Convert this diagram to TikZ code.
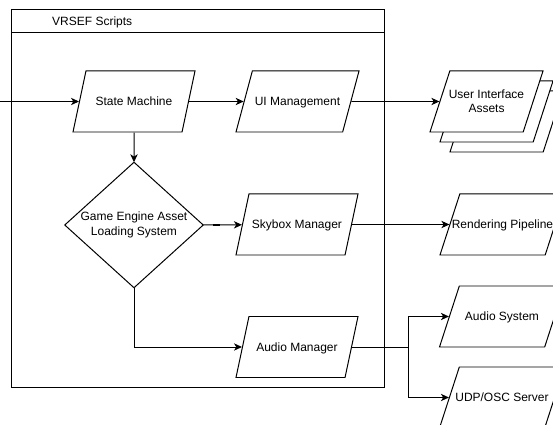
\documentclass[tikz,border=0pt]{standalone}
\usepackage{fontspec}
\setmainfont{Liberation Sans}
\usetikzlibrary{arrows.meta,shapes.geometric}
\tikzset{
  flow/.style = {line width=0.85pt, -{Stealth[length=2.4mm,width=2.2mm,inset=0.7mm]}},
  plain/.style = {line width=0.85pt},
  io/.style = {trapezium, trapezium left angle=#1, trapezium right angle=180-#1,
               trapezium stretches body=true, draw, line width=0.85pt, fill=white,
               inner xsep=-12pt, inner ysep=0pt, text height=1.035cm, text depth=0.795cm,
               align=center, font=\fontsize{10.24}{12.3}\selectfont},
  io/.default = 78,
  twolines/.style = {text height=1.252cm, text depth=0.578cm},
  decide/.style = {draw=none, minimum width=4.14cm, minimum height=3.75cm, align=center,
                   font=\fontsize{10.24}{12.3}\selectfont},
  dashmark/.style = {fill=black, inner sep=0pt, minimum width=0.21cm, minimum height=1.6pt}
}

\begin{document}
\begin{tikzpicture}[x=0.03cm, y=-0.03cm]
  \useasboundingbox (0,0) rectangle (553,425);

  % container
  \draw[plain] (11,10) rectangle (384,387);
  \draw[plain] (11,33) -- (384,33);
  \node[anchor=west, inner sep=0pt, font=\fontsize{10.24}{12.3}\selectfont] (title) at (52,22) {VRSEF Scripts};

  % scripts
  \node[io, minimum width=3.66cm] (sm) at (134,101.5) {State Machine};
  \node[io=75, minimum width=3.69cm] (ui) at (297.5,101.5) {UI Management};
  \node[decide] (gea) at (134,225) {Game Engine Asset\\Loading System};
  \draw[plain] (gea.west) -- (gea.north) -- (gea.east) -- (gea.south) -- cycle;
  \node[io, minimum width=3.66cm] (sky) at (297,224.5) {Skybox Manager};
  \node[io, minimum width=3.66cm] (am) at (297,347) {Audio Manager};

  % outside
  \node[io=72, minimum width=3.39cm] (uia3) at (506.5,121.5) {};
  \node[io=72, minimum width=3.39cm] (uia2) at (496.5,111.5) {};
  \node[io=72, twolines, minimum width=3.39cm] (uia) at (486.5,101.5) {User Interface\\Assets};
  \node[io=72, minimum width=3.75cm] (rp) at (502.5,224.5) {Rendering Pipeline};
  \node[io=72, minimum width=3.75cm] (as) at (502,316.5) {Audio System};
  \node[io=72, minimum width=3.75cm] (udp) at (502,397.5) {UDP/OSC Server};

  \coordinate (in) at (0,101.5);
  \coordinate (split) at (408,347.5);

  \draw[flow] (in) -- (sm);
  \draw[flow] (sm) -- (ui);
  \draw[flow] (ui) -- (uia);
  \draw[flow] (sm) -- (gea.north);
  \draw[flow] (gea.east) -- node[dashmark, pos=0.35] (mark) {} (sky);
  \draw[flow] (gea.south) |- (am);
  \draw[flow] (sky) -- (rp);
  \draw[plain] (am.east |- split) -- (split);
  \draw[flow] (split) |- (as);
  \draw[flow] (split) |- (udp);
\end{tikzpicture}
\end{document}
